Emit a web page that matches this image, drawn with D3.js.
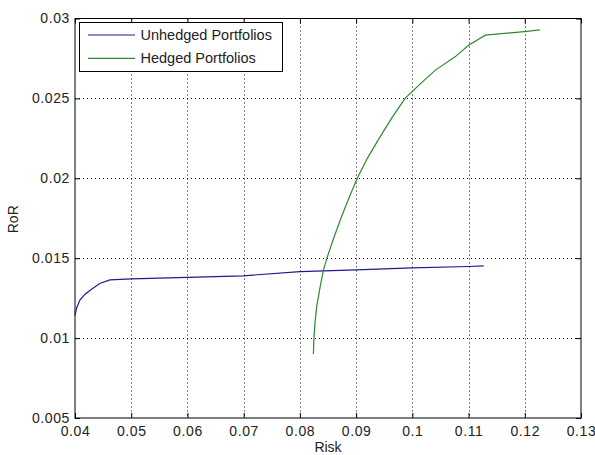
<!DOCTYPE html>
<html><head><meta charset="utf-8">
<script src="https://cdn.jsdelivr.net/npm/d3@7"></script>
<style>body{margin:0;background:#fff}svg{display:block}</style>
</head><body>
<svg id="c" width="595" height="455"></svg>
<script>
const seriesNames = ["Unhedged Portfolios", "Hedged Portfolios"];
const unhedgedRisk = [0.0400, 0.0403, 0.0409, 0.0418, 0.0427, 0.0444, 0.0462, 0.050, 0.060, 0.070, 0.080, 0.090, 0.100, 0.110, 0.1127];
const unhedgedRoR  = [0.01140, 0.0119, 0.0124, 0.01275, 0.0130, 0.01342, 0.01364, 0.0137, 0.0138, 0.0139, 0.01416, 0.01427, 0.0144, 0.01448, 0.01452];
const hedgedRisk = [0.0824, 0.0825, 0.0827, 0.0830, 0.0836, 0.0842, 0.0848, 0.0860, 0.0873, 0.0887, 0.0902, 0.0920, 0.0941, 0.0963, 0.0987, 0.1017, 0.1041, 0.1076, 0.1100, 0.1130, 0.1180, 0.1204, 0.1227];
const hedgedRoR  = [0.0090, 0.0100, 0.0110, 0.0120, 0.0132, 0.01427, 0.0150, 0.01625, 0.0175, 0.01875, 0.0200, 0.02125, 0.0225, 0.02375, 0.0250, 0.0260, 0.02677, 0.0276, 0.02833, 0.02896, 0.02912, 0.0292, 0.02929];
const xTicks = [0.04, 0.05, 0.06, 0.07, 0.08, 0.09, 0.10, 0.11, 0.12, 0.13];
const xTickLabels = ["0.04","0.05","0.06","0.07","0.08","0.09","0.1","0.11","0.12","0.13"];
const yTicks = [0.005, 0.01, 0.015, 0.02, 0.025, 0.03];
const yTickLabels = ["0.005","0.01","0.015","0.02","0.025","0.03"];
const colors = ["#1c1c8c", "#2f8a2f"];

(function () {
const L = 75, R = 581, T = 18.5, B = 418;
const svg = d3.select("#c");
const font = "'Liberation Sans', Arial, sans-serif";
const x = d3.scaleLinear().domain([0.04, 0.13]).range([L, R]);
const y = d3.scaleLinear().domain([0.005, 0.03]).range([B, T]);

// grid
const grid = svg.append("g").attr("stroke", "#000").attr("stroke-width", 1).attr("stroke-dasharray", "1,3");
xTicks.slice(1, -1).forEach(t => grid.append("line").attr("x1", Math.round(x(t)) + 0.5).attr("x2", Math.round(x(t)) + 0.5).attr("y1", T).attr("y2", B));
yTicks.slice(1, -1).forEach(t => grid.append("line").attr("y1", Math.round(y(t)) + 0.5).attr("y2", Math.round(y(t)) + 0.5).attr("x1", L).attr("x2", R));

// axes (ticks inward)
const gBottom = svg.append("g").attr("transform", `translate(0,${B})`)
  .call(d3.axisBottom(x).tickValues(xTicks).tickFormat((d, i) => xTickLabels[i]).tickSizeInner(-5).tickSizeOuter(0).tickPadding(8));
const gLeft = svg.append("g").attr("transform", `translate(${L},0)`)
  .call(d3.axisLeft(y).tickValues(yTicks).tickFormat((d, i) => yTickLabels[i]).tickSizeInner(-5).tickSizeOuter(0).tickPadding(5));
const gTop = svg.append("g").attr("transform", `translate(0,${T})`)
  .call(d3.axisTop(x).tickValues(xTicks).tickFormat("").tickSizeInner(-5).tickSizeOuter(0));
const gRight = svg.append("g").attr("transform", `translate(${R},0)`)
  .call(d3.axisRight(y).tickValues(yTicks).tickFormat("").tickSizeInner(-5).tickSizeOuter(0));
[gBottom, gLeft, gTop, gRight].forEach(g => {
  g.select(".domain").remove();
  g.selectAll("line").attr("stroke", "#000");
  g.selectAll("text").attr("font-family", font).attr("font-size", 14).attr("letter-spacing", "0.6px").attr("fill", "#222");
});
svg.append("rect").attr("x", L).attr("y", T).attr("width", R - L).attr("height", B - T)
  .attr("fill", "none").attr("stroke", "#000").attr("stroke-width", 1);

// lines
const line = d3.line().x(d => x(d[0])).y(d => y(d[1]));
const uData = unhedgedRisk.map((v, i) => [v, unhedgedRoR[i]]);
const hData = hedgedRisk.map((v, i) => [v, hedgedRoR[i]]);
svg.append("path").datum(uData).attr("d", line).attr("fill", "none").attr("stroke", colors[0]).attr("stroke-width", 1.2);
svg.append("path").datum(hData).attr("d", line).attr("fill", "none").attr("stroke", colors[1]).attr("stroke-width", 1.2);

// labels
svg.append("text").attr("x", (L + R) / 2).attr("y", 452).attr("text-anchor", "middle")
  .attr("font-family", font).attr("font-size", 14).attr("fill", "#222").text("Risk");
svg.append("text").attr("transform", `translate(17.5,${(T + B) / 2 + 1}) rotate(-90)`).attr("text-anchor", "middle")
  .attr("font-family", font).attr("font-size", 14).attr("fill", "#222").text("RoR");

// legend
const lg = svg.append("g");
lg.append("rect").attr("x", 79.5).attr("y", 22.5).attr("width", 203).attr("height", 49)
  .attr("fill", "#fff").attr("stroke", "#000").attr("stroke-width", 1);
seriesNames.forEach((n, i) => {
  const yy = 35 + i * 23.3;
  lg.append("line").attr("x1", 88).attr("x2", 135).attr("y1", yy).attr("y2", yy).attr("stroke", colors[i]).attr("stroke-width", 1.2);
  lg.append("text").attr("x", 140.5).attr("y", yy + 5).attr("font-family", font).attr("font-size", 14.5).attr("fill", "#222").text(n);
});
})();
</script>
</body></html>
